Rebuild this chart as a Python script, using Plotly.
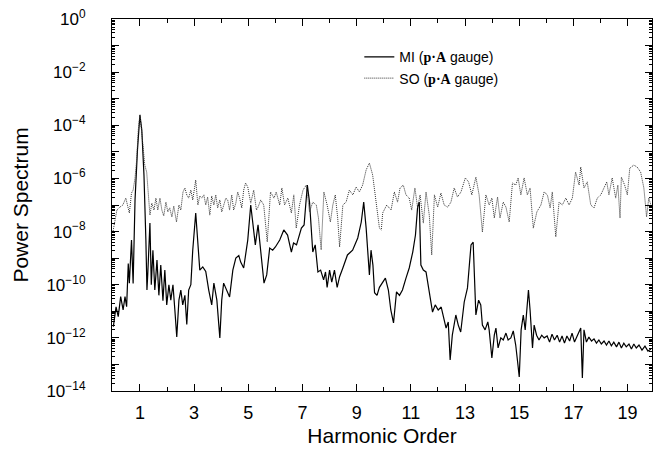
import numpy as np
import plotly.graph_objects as go

# Harmonic order (x) and log10 of power spectrum
mi_harm = [0.02,0.12,0.20,0.29,0.38,0.45,0.51,0.57,0.61,0.69,0.75,0.82,0.91,1.00,1.07,1.15,1.22,1.26,1.29,1.37,
           1.42,1.48,1.55,1.63,1.70,1.77,1.85,1.92,1.99,2.07,2.14,2.22,2.29,2.36,2.44,2.51,2.58,2.66,2.73,2.80,
           2.88,2.95,3.06,3.14,3.21,3.32,3.43,3.54,3.65,3.73,3.84,3.95,4.02,4.09,4.20,4.31,4.43,4.54,4.65,4.72,
           4.83,4.90,4.98,5.09,5.16,5.26,5.36,5.46,5.58,5.68,5.79,5.90,6.00,6.16,6.31,6.45,6.59,6.67,6.78,6.96,
           7.06,7.18,7.26,7.38,7.47,7.57,7.67,7.78,7.85,7.91,8.00,8.08,8.18,8.28,8.37,8.49,8.66,8.85,9.04,9.17,
           9.26,9.35,9.47,9.53,9.60,9.66,9.75,9.84,9.95,10.06,10.17,10.26,10.36,10.47,10.58,10.69,10.82,10.94,11.07,11.17,
           11.25,11.31,11.37,11.46,11.56,11.68,11.80,11.90,12.01,12.12,12.21,12.30,12.38,12.45,12.53,12.66,12.75,12.84,12.97,13.09,
           13.22,13.30,13.40,13.50,13.58,13.64,13.74,13.84,13.89,13.99,14.08,14.14,14.22,14.32,14.41,14.51,14.59,14.69,14.78,14.87,
           14.94,15.00,15.07,15.15,15.22,15.34,15.40,15.49,15.55,15.64,15.73,15.83,15.92,16.03,16.12,16.21,16.30,16.40,16.49,16.58,
           16.67,16.76,16.86,16.95,17.04,17.13,17.27,17.33,17.39,17.48,17.57,17.67,17.76,17.85,17.94,18.03,18.13,18.22,18.31,18.40,
           18.49,18.59,18.68,18.77,18.86,18.95,19.05,19.14,19.23,19.32,19.42,19.53,19.64,19.75,19.86]
mi_log10 = [-11.58,-10.83,-11.20,-10.45,-10.95,-10.45,-10.83,-9.20,-9.94,-8.32,-9.95,-6.80,-4.93,-3.61,-4.18,-5.87,-8.30,-10.20,-9.60,-7.68,
            -10.00,-8.70,-10.20,-9.07,-10.40,-9.26,-10.60,-9.45,-10.76,-10.00,-10.58,-10.00,-10.95,-11.97,-10.58,-10.20,-10.76,-10.40,-11.50,-10.20,
            -10.00,-8.70,-7.30,-8.50,-9.45,-9.33,-9.50,-10.20,-10.76,-9.94,-10.58,-12.00,-10.58,-9.94,-10.20,-10.46,-9.45,-9.00,-8.90,-9.15,
            -9.37,-8.90,-8.32,-7.00,-7.64,-8.50,-7.75,-8.77,-9.94,-9.63,-8.62,-8.70,-8.58,-8.32,-7.94,-8.13,-8.77,-8.43,-8.50,-7.87,
            -7.75,-6.25,-6.89,-8.77,-8.50,-9.52,-9.45,-9.82,-9.52,-10.10,-9.45,-9.90,-9.45,-10.10,-9.70,-9.37,-8.88,-8.70,-8.24,-7.64,
            -6.89,-7.87,-9.63,-8.70,-9.26,-10.30,-10.40,-10.10,-9.90,-9.75,-10.20,-10.95,-11.44,-10.27,-10.40,-10.20,-9.75,-9.37,-8.77,-8.13,
            -7.07,-6.89,-9.26,-9.45,-9.52,-10.20,-11.03,-10.76,-10.95,-10.84,-11.25,-11.63,-11.40,-12.83,-11.90,-11.14,-11.52,-11.78,-10.65,-10.12,
            -8.50,-8.40,-11.14,-10.58,-10.76,-11.52,-11.70,-11.40,-11.70,-12.76,-11.90,-11.63,-12.38,-12.00,-12.08,-11.82,-12.08,-12.00,-11.74,-12.27,
            -12.90,-13.47,-11.70,-11.14,-11.70,-10.20,-10.95,-12.38,-11.52,-11.90,-12.08,-11.90,-12.00,-11.93,-12.16,-11.86,-12.08,-11.90,-12.16,-11.93,
            -12.20,-11.93,-12.12,-11.82,-12.16,-11.93,-11.63,-13.51,-11.70,-12.16,-11.97,-12.12,-12.04,-12.20,-12.08,-12.23,-12.12,-12.27,-12.12,-12.30,
            -12.16,-12.34,-12.16,-12.38,-12.20,-12.34,-12.23,-12.42,-12.23,-12.38,-12.27,-12.46,-12.31,-12.50,-12.42]

so_harm = [0.01,0.08,0.15,0.26,0.37,0.48,0.56,0.61,0.69,0.75,0.82,0.88,0.94,1.00,1.06,1.12,1.18,1.25,1.31,1.37,
           1.44,1.52,1.59,1.66,1.74,1.81,1.88,1.96,2.03,2.10,2.18,2.25,2.35,2.44,2.51,2.59,2.66,2.73,2.80,2.88,
           2.95,3.06,3.14,3.21,3.28,3.36,3.43,3.50,3.58,3.65,3.73,3.80,3.87,3.95,4.02,4.09,4.17,4.24,4.31,4.39,
           4.46,4.54,4.61,4.68,4.76,4.83,4.90,4.98,5.09,5.20,5.30,5.36,5.46,5.57,5.70,5.82,5.95,6.03,6.16,6.24,
           6.34,6.46,6.59,6.68,6.77,6.89,7.02,7.14,7.26,7.38,7.51,7.59,7.69,7.79,7.91,8.03,8.12,8.21,8.30,8.37,
           8.49,8.61,8.73,8.86,8.98,9.10,9.22,9.35,9.47,9.59,9.72,9.84,9.91,9.96,10.11,10.27,10.39,10.51,10.60,10.72,
           10.82,10.94,11.03,11.15,11.25,11.34,11.46,11.56,11.68,11.77,11.87,11.99,12.11,12.23,12.36,12.48,12.60,12.72,12.85,13.01,
           13.13,13.25,13.40,13.52,13.64,13.77,13.89,13.99,14.08,14.20,14.29,14.41,14.51,14.63,14.75,14.87,14.96,15.06,15.18,15.30,
           15.40,15.52,15.65,15.80,15.92,16.04,16.14,16.22,16.35,16.47,16.59,16.72,16.84,16.96,17.08,17.21,17.27,17.39,17.51,17.64,
           17.76,17.88,18.01,18.13,18.23,18.31,18.43,18.56,18.64,18.72,18.77,18.89,18.99,19.08,19.23,19.35,19.48,19.60,19.70,19.78,
           19.86]
so_log10 = [-7.98,-7.64,-7.19,-7.08,-7.00,-6.74,-7.11,-7.30,-6.55,-6.44,-5.98,-5.31,-4.18,-3.61,-4.18,-4.93,-5.50,-5.76,-6.62,-7.38,
            -6.93,-7.19,-6.74,-7.19,-6.74,-7.19,-7.41,-6.89,-7.26,-7.11,-7.45,-7.04,-7.64,-7.00,-7.19,-6.51,-6.36,-6.62,-6.74,-6.44,
            -6.81,-6.06,-7.00,-6.66,-6.74,-6.62,-7.00,-6.70,-7.38,-6.66,-7.00,-6.62,-7.11,-6.81,-7.26,-7.00,-6.74,-6.81,-7.19,-6.62,
            -7.19,-6.93,-6.51,-6.74,-7.11,-6.44,-6.17,-6.32,-6.93,-6.44,-7.19,-7.08,-6.81,-7.00,-8.39,-6.51,-6.74,-6.51,-7.00,-6.36,
            -7.00,-6.74,-7.30,-6.62,-7.87,-7.00,-6.44,-6.25,-7.26,-6.89,-7.00,-7.49,-8.69,-6.51,-7.00,-7.64,-7.00,-6.62,-7.49,-8.58,
            -7.00,-6.89,-6.44,-6.62,-6.32,-6.51,-6.25,-5.68,-5.42,-5.87,-6.89,-7.87,-7.94,-7.30,-7.00,-7.19,-6.51,-6.89,-6.36,-6.25,
            -6.62,-6.74,-7.19,-6.36,-7.11,-6.62,-7.68,-6.51,-7.38,-8.88,-6.62,-7.08,-6.55,-7.00,-7.08,-6.89,-6.36,-6.70,-6.51,-5.98,
            -6.13,-6.62,-5.95,-6.62,-8.02,-6.62,-7.00,-6.74,-7.49,-6.70,-7.49,-6.89,-7.08,-7.64,-6.17,-6.25,-5.98,-6.62,-5.98,-6.62,
            -6.36,-7.87,-7.26,-7.00,-6.51,-6.62,-7.11,-6.51,-8.20,-6.89,-7.00,-6.74,-7.00,-6.74,-5.76,-6.25,-5.57,-6.36,-6.13,-7.00,
            -7.11,-6.74,-6.62,-6.36,-6.13,-6.62,-5.98,-6.74,-6.25,-7.49,-5.95,-6.25,-6.62,-5.61,-5.50,-5.57,-5.76,-6.36,-7.45,-6.74,
            -7.00]

x_tick_vals = [1, 3, 5, 7, 9, 11, 13, 15, 17, 19]
y_decades = list(range(-14, 1))
y_tick_text = [("10<sup>%s</sup>" % (str(d).replace("-", "\u2212")) if d % 2 == 0 else "") for d in y_decades]

mi_power = np.power(10.0, mi_log10)
so_power = np.power(10.0, so_log10)

font_family = "Liberation Sans, Arial, sans-serif"
bold_pa = '<span style="font-family:Liberation Serif"><b>p\u00b7A</b></span>'

fig = go.Figure()
fig.add_trace(go.Scatter(x=mi_harm, y=mi_power, mode="lines",
                         line=dict(color="black", width=1.2),
                         name="MI (" + bold_pa + " gauge)"))
fig.add_trace(go.Scatter(x=so_harm, y=so_power, mode="lines",
                         line=dict(color="#333333", width=1, dash="1px,1px"),
                         name="SO (" + bold_pa + " gauge)"))

fig.update_layout(
    width=654, height=455,
    margin=dict(l=112, r=2, t=19, b=64),
    paper_bgcolor="white", plot_bgcolor="white",
    font=dict(family=font_family, color="black"),
    showlegend=True,
    legend=dict(x=0.458, y=0.94, xanchor="left", yanchor="top",
                bgcolor="rgba(0,0,0,0)", font=dict(size=14, family=font_family),
                itemwidth=30, tracegroupgap=0),
    xaxis=dict(range=[-0.03, 19.9], tickmode="array", tickvals=x_tick_vals,
               ticks="inside", ticklen=7, tickwidth=1, tickcolor="black",
               minor=dict(dtick=1, tick0=0, ticks="inside", ticklen=4, tickcolor="black"),
               showline=True, linecolor="black", linewidth=1.2, mirror="ticks",
               showgrid=False, zeroline=False,
               tickfont=dict(size=18), ticklabelstandoff=5,
               title=dict(text="Harmonic Order", font=dict(size=21), standoff=6)),
    yaxis=dict(type="log", range=[-14, 0], tickmode="array",
               tickvals=[10.0 ** d for d in y_decades], ticktext=y_tick_text,
               ticks="inside", ticklen=7, tickwidth=1, tickcolor="black",
               minor=dict(dtick="D1", ticks="inside", ticklen=3, tickcolor="black"),
               showline=True, linecolor="black", linewidth=1.2, mirror="ticks",
               showgrid=False, zeroline=False,
               tickfont=dict(size=17), ticklabelstandoff=22,
               title=dict(text="Power Spectrum", font=dict(size=21), standoff=12)),
)

fig.write_html("out.html")
